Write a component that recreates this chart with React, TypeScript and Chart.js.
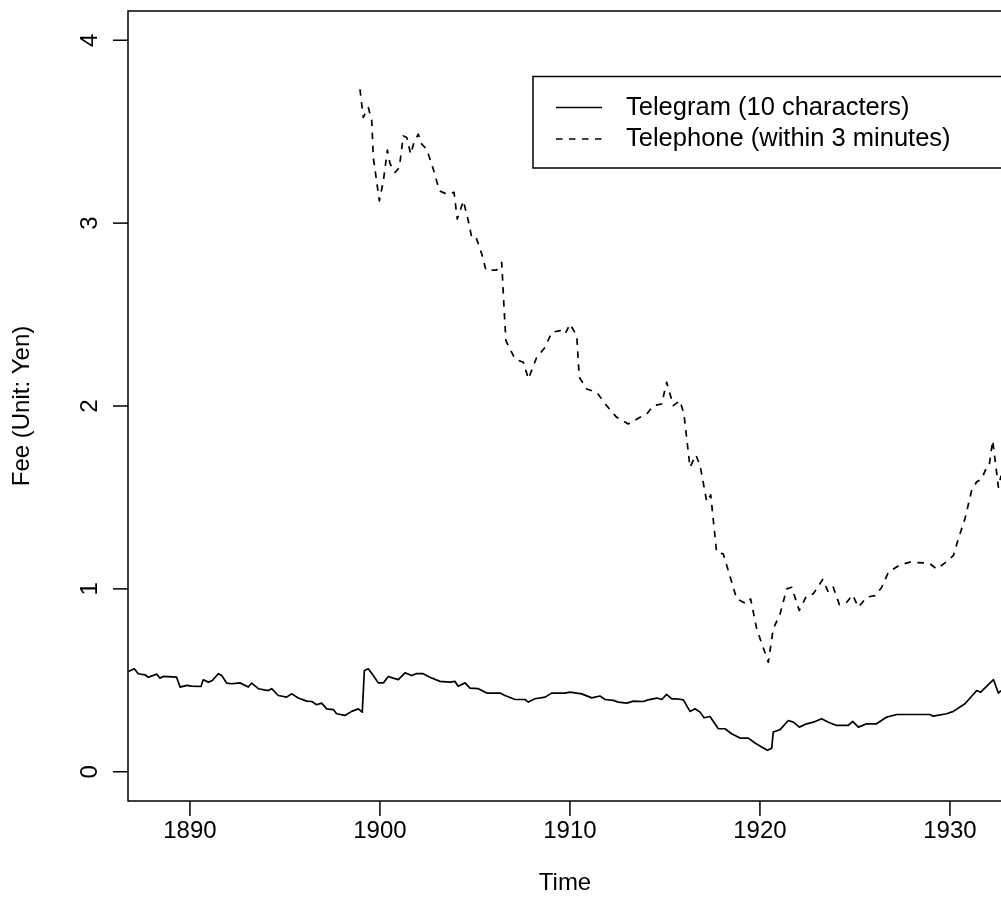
import React, { useEffect, useRef } from "react";
import { Chart, registerables } from "chart.js";

Chart.register(...registerables);

const telegramYears = [
  1886.76, 1887.07, 1887.28, 1887.63, 1887.81, 1888.25, 1888.42, 1888.6, 1889.3, 1889.48,
  1889.83, 1890.09, 1890.58, 1890.7, 1890.97, 1891.18, 1891.49, 1891.67, 1891.93, 1892.2,
  1892.63, 1893.07, 1893.25, 1893.6, 1894.12, 1894.3, 1894.65, 1895.09, 1895.36, 1895.7,
  1896.15, 1896.41, 1896.67, 1896.93, 1897.2, 1897.55, 1897.72, 1898.16, 1898.51, 1898.86,
  1899.07, 1899.18, 1899.39, 1899.65, 1899.91, 1900.18, 1900.44, 1900.7, 1900.97, 1901.32,
  1901.67, 1901.93, 1902.28, 1902.63, 1903.16, 1903.69, 1903.95, 1904.12, 1904.48, 1904.74,
  1905.18, 1905.62, 1906.32, 1906.58, 1907.11, 1907.63, 1907.81, 1908.16, 1908.69, 1909.04,
  1909.74, 1910.0, 1910.62, 1911.15, 1911.58, 1911.85, 1912.28, 1912.55, 1912.99, 1913.34,
  1913.86, 1914.12, 1914.57, 1914.83, 1915.09, 1915.36, 1915.62, 1915.97, 1916.32, 1916.58,
  1916.85, 1917.06, 1917.37, 1917.81, 1918.16, 1918.51, 1918.95, 1919.39, 1919.74, 1920.09,
  1920.39, 1920.62, 1920.7, 1921.06, 1921.49, 1921.76, 1922.07, 1922.46, 1922.81, 1923.25,
  1923.6, 1924.04, 1924.65, 1924.88, 1925.18, 1925.62, 1926.14, 1926.67, 1927.2, 1928.95,
  1929.12, 1929.83, 1930.18, 1930.79, 1931.41, 1931.62, 1931.94, 1932.29, 1932.55, 1932.69,
];
const telegramFees = [
  0.548, 0.563, 0.536, 0.53, 0.517, 0.534, 0.512, 0.521, 0.517, 0.463,
  0.472, 0.468, 0.466, 0.503, 0.49, 0.499, 0.536, 0.526, 0.485, 0.481,
  0.486, 0.463, 0.485, 0.454, 0.444, 0.454, 0.417, 0.408, 0.426, 0.403,
  0.386, 0.384, 0.366, 0.375, 0.344, 0.34, 0.317, 0.308, 0.33, 0.344,
  0.326, 0.554, 0.563, 0.526, 0.486, 0.486, 0.521, 0.512, 0.504, 0.541,
  0.526, 0.537, 0.536, 0.517, 0.494, 0.49, 0.494, 0.468, 0.486, 0.457,
  0.454, 0.43, 0.43, 0.417, 0.395, 0.395, 0.381, 0.399, 0.408, 0.43,
  0.43, 0.435, 0.426, 0.404, 0.414, 0.395, 0.39, 0.381, 0.375, 0.386,
  0.384, 0.393, 0.403, 0.395, 0.423, 0.399, 0.399, 0.393, 0.33, 0.344,
  0.326, 0.295, 0.302, 0.235, 0.235, 0.208, 0.184, 0.184, 0.157, 0.135,
  0.117, 0.129, 0.217, 0.23, 0.28, 0.271, 0.244, 0.262, 0.271, 0.29,
  0.271, 0.253, 0.253, 0.275, 0.244, 0.262, 0.262, 0.299, 0.313, 0.313,
  0.304, 0.317, 0.33, 0.372, 0.444, 0.435, 0.468, 0.504, 0.43, 0.444,
];

const telephoneYears = [
  1898.95, 1899.12, 1899.39, 1899.57, 1899.65, 1899.97, 1900.18, 1900.39, 1900.53, 1900.79,
  1901.02, 1901.23, 1901.41, 1901.62, 1901.79, 1902.02, 1902.2, 1902.46, 1902.81, 1903.13,
  1903.51, 1903.9, 1904.07, 1904.39, 1904.65, 1904.83, 1905.06, 1905.36, 1905.58, 1906.14,
  1906.41, 1906.53, 1906.63, 1907.11, 1907.55, 1907.81, 1908.25, 1908.69, 1909.04, 1909.48,
  1909.74, 1910.0, 1910.36, 1910.49, 1910.88, 1911.41, 1911.93, 1912.46, 1913.07, 1913.69,
  1914.04, 1914.39, 1914.83, 1915.09, 1915.44, 1915.79, 1916.0, 1916.32, 1916.63, 1916.85,
  1917.2, 1917.41, 1917.72, 1918.07, 1918.78, 1919.3, 1919.51, 1919.83, 1920.44, 1920.7,
  1921.06, 1921.41, 1921.67, 1922.07, 1922.46, 1922.81, 1923.3, 1923.6, 1923.86, 1924.18,
  1924.57, 1924.88, 1925.18, 1925.62, 1926.06, 1926.41, 1926.76, 1927.37, 1927.9, 1928.6,
  1928.95, 1929.3, 1929.74, 1930.18, 1930.44, 1930.79, 1931.14, 1931.41, 1931.67, 1931.93,
  1932.07, 1932.25, 1932.37, 1932.55, 1932.69,
];
const telephoneFees = [
  3.732, 3.578, 3.632, 3.559, 3.359, 3.122, 3.231, 3.399, 3.326, 3.277,
  3.304, 3.477, 3.468, 3.377, 3.441, 3.486, 3.432, 3.404, 3.295, 3.177,
  3.159, 3.168, 3.022, 3.122, 3.013, 2.922, 2.922, 2.831, 2.743, 2.743,
  2.785, 2.539, 2.357, 2.257, 2.239, 2.148, 2.266, 2.321, 2.403, 2.412,
  2.393, 2.448, 2.384, 2.157, 2.093, 2.075, 2.002, 1.938, 1.902, 1.938,
  1.956, 2.002, 2.011, 2.13, 2.002, 2.029, 1.956, 1.665, 1.732, 1.674,
  1.477, 1.514, 1.2, 1.191, 0.945, 0.918, 0.945, 0.781, 0.599, 0.781,
  0.863, 1.0, 1.009, 0.882, 0.963, 0.973, 1.051, 0.982, 1.009, 0.914,
  0.927, 0.967, 0.9, 0.955, 0.963, 1.009, 1.091, 1.131, 1.146, 1.142,
  1.137, 1.109, 1.142, 1.182, 1.273, 1.383, 1.537, 1.586, 1.601, 1.665,
  1.678, 1.811, 1.71, 1.556, 1.619,
];

const xTicks = [1890, 1900, 1910, 1920, 1930];
const yTicks = [0, 1, 2, 3, 4];
const seriesLabels = ["Telegram (10 characters)", "Telephone (within 3 minutes)"];
const xTitle = "Time";
const yTitle = "Fee (Unit: Yen)";

const FONT = '"Liberation Sans", Arial, Helvetica, sans-serif';
const FS = 24;
const LEGEND_FS = 25.5;

const axesPlugin = {
  id: "rAxes",
  afterDraw(chart: any) {
    const ctx = chart.ctx as CanvasRenderingContext2D;
    const { left, right, top, bottom } = chart.chartArea;
    const xs = chart.scales.x;
    const ys = chart.scales.y;
    ctx.save();
    ctx.strokeStyle = "#000";
    ctx.fillStyle = "#000";
    ctx.lineWidth = 1.5;
    ctx.beginPath();
    ctx.rect(left, top, right - left, bottom - top);
    ctx.stroke();
    ctx.font = `${FS}px ${FONT}`;
    ctx.textAlign = "center";
    ctx.textBaseline = "middle";
    xTicks.forEach((v) => {
      const px = xs.getPixelForValue(v);
      ctx.beginPath();
      ctx.moveTo(px, bottom);
      ctx.lineTo(px, bottom + 15);
      ctx.stroke();
      ctx.fillText(String(v), px, bottom + 30);
    });
    ctx.fillText(xTitle, (left + right) / 2, 883);
    yTicks.forEach((v) => {
      const py = ys.getPixelForValue(v);
      ctx.beginPath();
      ctx.moveTo(left, py);
      ctx.lineTo(left - 15, py);
      ctx.stroke();
      ctx.save();
      ctx.translate(left - 38, py);
      ctx.rotate(-Math.PI / 2);
      ctx.fillText(String(v), 0, 0);
      ctx.restore();
    });
    ctx.save();
    ctx.translate(22, (top + bottom) / 2);
    ctx.rotate(-Math.PI / 2);
    ctx.fillText(yTitle, 0, 0);
    ctx.restore();
    // legend
    const lx = 533;
    const ly = 76.5;
    ctx.lineWidth = 1.5;
    ctx.beginPath();
    ctx.rect(lx, ly, right + 20 - lx, 168 - ly);
    ctx.stroke();
    ctx.textAlign = "left";
    ctx.font = `${LEGEND_FS}px ${FONT}`;
    const rows = [107.5, 139];
    chart.data.datasets.forEach((ds: any, i: number) => {
      const y = rows[i];
      ctx.save();
      ctx.lineWidth = ds.borderWidth;
      ctx.setLineDash(ds.borderDash || []);
      ctx.beginPath();
      ctx.moveTo(556, y);
      ctx.lineTo(602, y);
      ctx.stroke();
      ctx.restore();
      ctx.fillText(ds.label, 626, y);
    });
    ctx.restore();
  },
};

export default function App() {
  const ref = useRef<HTMLCanvasElement | null>(null);
  useEffect(() => {
    if (!ref.current) return;
    const chart = new Chart(ref.current, {
      type: "line",
      data: {
        datasets: [
          {
            label: seriesLabels[0],
            data: telegramYears.map((x, i) => ({ x, y: telegramFees[i] })),
            borderColor: "#000",
            borderWidth: 1.7,
            borderDash: [],
            pointRadius: 0,
            tension: 0,
            borderJoinStyle: "round",
            fill: false,
          },
          {
            label: seriesLabels[1],
            data: telephoneYears.map((x, i) => ({ x, y: telephoneFees[i] })),
            borderColor: "#000",
            borderWidth: 1.7,
            borderDash: [6.5, 6.5],
            pointRadius: 0,
            tension: 0,
            borderJoinStyle: "round",
            fill: false,
          },
        ],
      },
      options: {
        responsive: false,
        maintainAspectRatio: false,
        animation: false,
        layout: { padding: { left: 128, top: 11, right: 8, bottom: 123 } },
        scales: {
          x: { type: "linear", display: false, min: 1886.74, max: 1932.74 },
          y: { type: "linear", display: false, min: -0.16, max: 4.16 },
        },
        plugins: { legend: { display: false }, tooltip: { enabled: false } },
      },
      plugins: [axesPlugin],
    } as any);
    return () => chart.destroy();
  }, []);
  return (
    <div
      style={{
        position: "absolute",
        left: 0,
        top: 0,
        width: 1001,
        height: 924,
        overflow: "hidden",
        background: "#fff",
      }}
    >
      <canvas ref={ref} width={1010} height={924} style={{ display: "block" }} />
    </div>
  );
}
